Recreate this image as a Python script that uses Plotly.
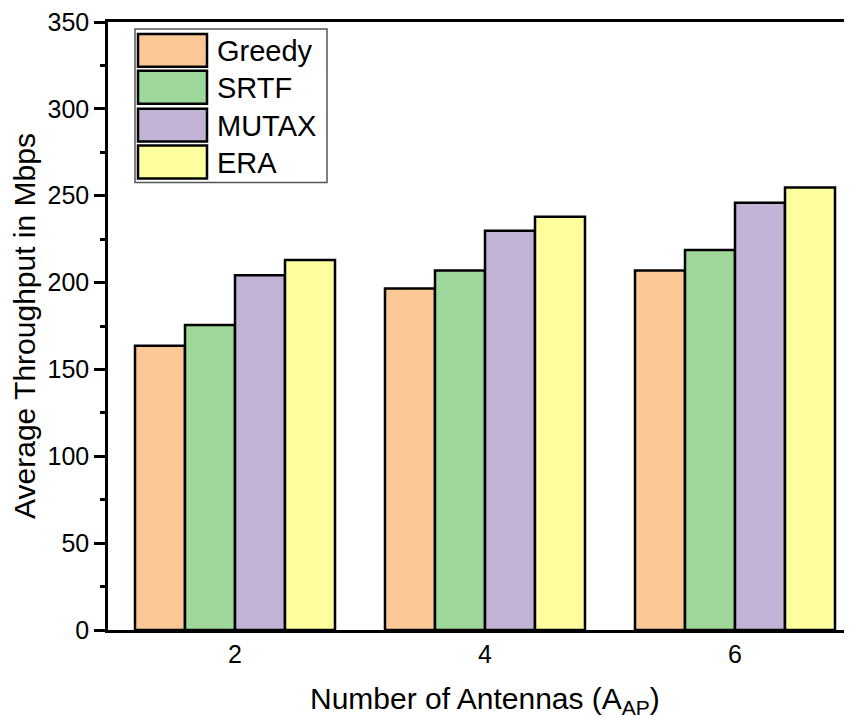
import plotly.graph_objects as go

# data
antennas = [2, 4, 6]
series_names = ["Greedy", "SRTF", "MUTAX", "ERA"]
greedy = [163.7, 196.6, 206.9]
srtf = [175.6, 206.9, 218.8]
mutax = [204.2, 229.9, 246.0]
era = [213.0, 237.9, 254.7]
colors = ["#FCC896", "#9ED89B", "#C2B2D6", "#FFFE9E"]

values = [greedy, srtf, mutax, era]

# the page body has an 8px margin, so the figure is shifted by that much
OFF = 8
W, H = 852 - OFF, 720 - OFF
L, R, T, B = 108 - OFF, 0, 20 - OFF, 90
FONT = "Liberation Sans, Arial, sans-serif"


def px2x(px):
    # screen pixel -> paper x
    return (px - OFF - L) / (W - L - R)


def py2y(py):
    # screen pixel -> paper y
    return (H - B - (py - OFF)) / (H - B - T)


fig = go.Figure()
for name, vals, col in zip(series_names, values, colors):
    fig.add_trace(go.Bar(
        x=antennas, y=vals, name=name,
        marker=dict(color=col, line=dict(color="black", width=2.5)),
        showlegend=False,
    ))

# hand-made legend with large swatches
shapes = [dict(type="rect", xref="paper", yref="paper",
               x0=px2x(135), x1=px2x(327), y0=py2y(181), y1=py2y(27),
               line=dict(color="#555555", width=1.5), fillcolor="white", layer="above")]
annotations = []
row_top = [32, 69, 107, 144]
for i, (name, col) in enumerate(zip(series_names, colors)):
    top = row_top[i]
    shapes.append(dict(type="rect", xref="paper", yref="paper",
                       x0=px2x(138), x1=px2x(207), y0=py2y(top + 33), y1=py2y(top),
                       line=dict(color="black", width=2.5), fillcolor=col, layer="above"))
    annotations.append(dict(xref="paper", yref="paper", x=px2x(215), y=py2y(top + 17),
                            text=name, showarrow=False, xanchor="left", yanchor="middle",
                            font=dict(family=FONT, size=29, color="black")))

# x axis title placed by hand
annotations.append(dict(xref="paper", yref="paper", x=px2x(485), y=py2y(701),
                        text="Number of Antennas (A<sub>AP</sub>)", showarrow=False,
                        xanchor="center", yanchor="middle",
                        font=dict(family=FONT, size=30, color="black")))

yrange = [0, 350]
fig.update_layout(
    width=W, height=H,
    margin=dict(l=L, r=R, t=T, b=B),
    paper_bgcolor="white", plot_bgcolor="white",
    barmode="group", bargap=0.2, bargroupgap=0,
    font=dict(family=FONT, color="black"),
    shapes=shapes, annotations=annotations,
    xaxis=dict(range=[0.984, 6.936], tickvals=antennas, ticktext=[str(a) for a in antennas],
               showline=True, linecolor="black", linewidth=2.5, mirror=True,
               ticks="", showgrid=False, zeroline=False,
               tickfont=dict(size=25, color="black")),
    yaxis=dict(range=yrange, dtick=50, showline=True, linecolor="black", linewidth=2.5,
               ticks="outside", ticklen=11, tickwidth=2.5, tickcolor="black",
               minor=dict(dtick=25, ticks="outside", ticklen=5, tickwidth=2.5, tickcolor="black"),
               showgrid=False, zeroline=False, ticklabeloverflow="allow",
               tickfont=dict(size=25, color="black"),
               title=dict(text="Average Throughput in Mbps", standoff=8,
                          font=dict(size=30, color="black"))),
    yaxis2=dict(range=yrange, dtick=50, overlaying="y", side="left", showline=False,
                ticks="inside", ticklen=12, tickwidth=2.5, tickcolor="black",
                minor=dict(dtick=25, ticks="inside", ticklen=7, tickwidth=2.5, tickcolor="black"),
                showticklabels=False, showgrid=False, zeroline=False),
    yaxis3=dict(range=yrange, dtick=50, overlaying="y", side="right", showline=False,
                ticks="inside", ticklen=5, tickwidth=2.5, tickcolor="black",
                minor=dict(dtick=25, ticks="inside", ticklen=3, tickwidth=2, tickcolor="#777777"),
                showticklabels=False, showgrid=False, zeroline=False),
)

fig.write_html("out.html")
